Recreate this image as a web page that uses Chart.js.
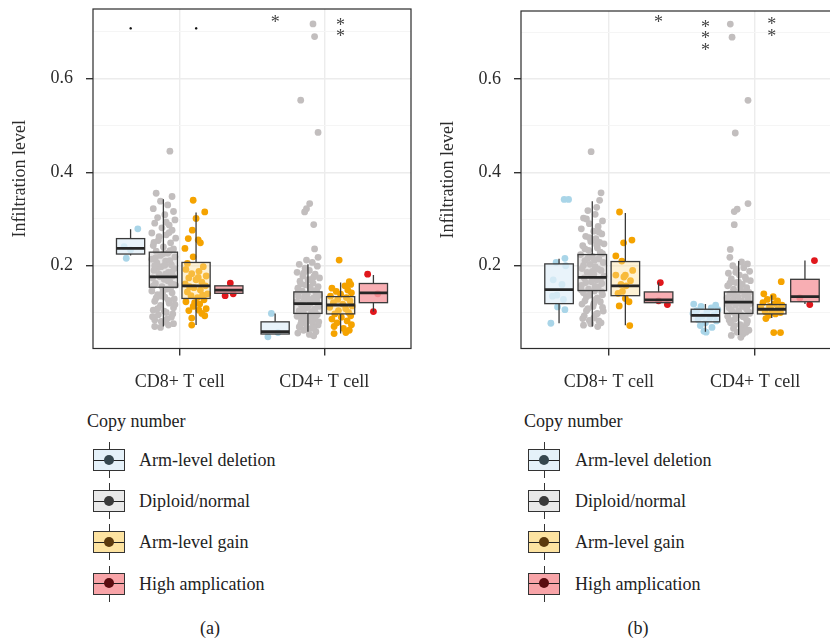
<!DOCTYPE html>
<html>
<head>
<meta charset="utf-8">
<script src="https://cdn.jsdelivr.net/npm/chart.js"></script>
<style>
  html, body { margin: 0; padding: 0; background: #fff; width: 830px; height: 640px; overflow: hidden; }
  body { position: relative; font-family: "Liberation Serif", "Times New Roman", serif; color: #222; }
  canvas { position: absolute; top: 0; }
  #chartA { left: 0; }
  #chartB { left: 428px; }
  .ltitle, .llabel, .caption { position: absolute; font-size: 18px; white-space: nowrap; height: 22px; line-height: 22px; }
  .key { position: absolute; width: 32px; height: 22px; box-sizing: border-box; border: 1px solid #333; }
  .key .mid { position: absolute; left: 0; right: 0; top: 9.5px; height: 1px; background: #222; }
  .key .dot { position: absolute; left: 10px; top: 4.5px; width: 10px; height: 10px; border-radius: 50%; }
  .key .wt, .key .wb { position: absolute; left: 14.5px; width: 1px; height: 7px; background: #333; }
  .key .wt { top: -8px; }
  .key .wb { bottom: -8px; }
  .caption { transform: translateX(-50%); }
</style>
</head>
<body>
<canvas id="chartA" width="420" height="400"></canvas>
<canvas id="chartB" width="424" height="400"></canvas>
<div id="legends"></div>
<script>
const SERIF = '"Liberation Serif", "Times New Roman", serif';

const CATEGORIES = ["CD8+ T cell", "CD4+ T cell"];
const CAT_POS = [1, 2];
const GROUPS = ["Arm-level deletion", "Diploid/normal", "Arm-level gain", "High amplication"];
const OFFSETS = [-0.34, -0.113, 0.113, 0.34];
const BOX_W = 0.195;

const Y_GRID = [0.1, 0.2, 0.3, 0.4, 0.5, 0.6, 0.7];
const Y_TICKS = [0.2, 0.4, 0.6];
const Y_TICK_LABELS = ["0.2", "0.4", "0.6"];
const Y_MIN = 0.023;

const POINT_COLORS = ["#a9d5e8", "#c2bebe", "#f5a300", "#e0171c"];
const BOX_FILLS = ["rgba(226,239,248,0.75)", "rgba(200,196,196,0.4)", "rgba(253,222,150,0.4)", "rgba(247,160,166,0.85)"];
const KEY_FILLS = ["#e5f1f9", "#e9e9e9", "#fde3a1", "#f8a4a8"];
const KEY_DOTS = ["#36474f", "#3a3a3a", "#5c3a0e", "#5a0d10"];

// box stats: [lower whisker, q1, median, q3, upper whisker], one row per copy-number group
const A_CD8_STATS = [[0.222, 0.225, 0.237, 0.258, 0.278], [0.070, 0.154, 0.176, 0.229, 0.342], [0.073, 0.130, 0.157, 0.207, 0.314], [0.141, 0.141, 0.148, 0.157, 0.157]];
const A_CD4_STATS = [[0.054, 0.054, 0.059, 0.080, 0.098], [0.059, 0.098, 0.119, 0.144, 0.203], [0.055, 0.097, 0.116, 0.134, 0.164], [0.102, 0.121, 0.142, 0.162, 0.180]];
const B_CD8_STATS = [[0.077, 0.119, 0.149, 0.204, 0.215], [0.070, 0.147, 0.175, 0.224, 0.338], [0.073, 0.136, 0.157, 0.209, 0.313], [0.121, 0.121, 0.127, 0.144, 0.164]];
const B_CD4_STATS = [[0.059, 0.080, 0.094, 0.107, 0.118], [0.052, 0.098, 0.122, 0.144, 0.210], [0.088, 0.097, 0.107, 0.117, 0.137], [0.118, 0.123, 0.134, 0.171, 0.211]];

// jittered points: [x offset from box centre, infiltration level]
const A_CD8_DEL = [[0.05, 0.279], [-0.03, 0.216], [0.0, 0.234], [-0.045, 0.241]];
const A_CD8_DIP = [[-0.05, 0.355], [0.06, 0.348], [-0.02, 0.338], [0.03, 0.33], [-0.07, 0.322], [0.07, 0.316], [0.01, 0.309], [-0.04, 0.303], [0.08, 0.298], [-0.06, 0.291], [0.04, 0.287], [-0.01, 0.281], [0.06, 0.276], [-0.08, 0.27], [0.02, 0.266], [0.085, 0.259], [-0.035, 0.254], [0.05, 0.249], [-0.07, 0.243], [0.0, 0.24], [0.07, 0.236], [-0.05, 0.231], [0.03, 0.227], [-0.02, 0.222], [0.08, 0.219], [-0.08, 0.214], [0.015, 0.21], [-0.045, 0.206], [0.055, 0.202], [-0.015, 0.198], [0.075, 0.194], [-0.065, 0.19], [0.035, 0.186], [-0.03, 0.182], [0.065, 0.178], [-0.075, 0.174], [0.005, 0.171], [0.045, 0.166], [-0.055, 0.162], [0.085, 0.158], [-0.01, 0.155], [0.025, 0.15], [-0.08, 0.146], [0.06, 0.142], [-0.04, 0.138], [0.01, 0.133], [0.075, 0.129], [-0.06, 0.124], [0.04, 0.12], [-0.02, 0.115], [0.07, 0.11], [-0.07, 0.105], [0.02, 0.1], [-0.035, 0.095], [0.055, 0.09], [-0.06, 0.084], [0.0, 0.079], [-0.06, 0.07], [0.035, 0.073], [-0.02, 0.068], [0.045, 0.445],
  [0.02, 0.293], [-0.03, 0.262], [0.045, 0.232], [-0.055, 0.217], [0.01, 0.201], [0.06, 0.187], [-0.025, 0.177], [0.03, 0.168], [-0.07, 0.157], [0.05, 0.152], [-0.005, 0.143], [-0.05, 0.131], [0.035, 0.126], [0.08, 0.117], [-0.04, 0.108], [0.005, 0.103], [0.065, 0.097], [-0.075, 0.091], [0.025, 0.086], [-0.015, 0.081], [0.07, 0.076], [0.045, 0.211], [-0.035, 0.196], [0.015, 0.182], [0.07, 0.16], [-0.06, 0.2], [0.0, 0.226], [-0.065, 0.25], [0.04, 0.271], [-0.015, 0.135]];
const A_CD8_GAIN = [[-0.02, 0.34], [0.06, 0.315], [0.0, 0.301], [-0.026, 0.276], [-0.054, 0.258], [0.015, 0.255], [0.03, 0.249], [-0.077, 0.237], [-0.02, 0.219], [-0.06, 0.205], [0.05, 0.198], [-0.07, 0.192], [0.02, 0.188], [-0.03, 0.183], [0.07, 0.178], [-0.05, 0.174], [0.0, 0.17], [0.04, 0.165], [-0.075, 0.161], [0.065, 0.157], [-0.015, 0.153], [0.03, 0.148], [-0.06, 0.144], [0.08, 0.14], [-0.035, 0.136], [0.01, 0.132], [0.055, 0.127], [-0.07, 0.123], [0.025, 0.118], [-0.02, 0.113], [0.07, 0.108], [-0.05, 0.104], [0.04, 0.098], [0.06, 0.093], [-0.03, 0.088], [-0.03, 0.073], [0.015, 0.175], [-0.045, 0.155], [0.045, 0.137], [-0.01, 0.121], [0.02, 0.105]];
const A_CD8_AMP = [[0.01, 0.163], [-0.026, 0.136], [0.03, 0.14]];
const A_CD4_DEL = [[-0.026, 0.098], [-0.05, 0.048], [0.02, 0.057]];
const A_CD4_DIP = [[0.035, 0.717], [0.046, 0.69], [-0.05, 0.554], [0.07, 0.485], [0.012, 0.333], [-0.01, 0.322], [-0.023, 0.315], [0.04, 0.288], [0.046, 0.236], [0.07, 0.218], [-0.01, 0.212], [0.03, 0.207], [-0.06, 0.203], [0.065, 0.199], [-0.02, 0.195], [0.01, 0.19], [-0.075, 0.186], [0.05, 0.182], [-0.035, 0.178], [0.08, 0.174], [0.0, 0.17], [-0.055, 0.167], [0.035, 0.163], [-0.015, 0.159], [0.07, 0.155], [-0.07, 0.152], [0.02, 0.149], [-0.04, 0.146], [0.055, 0.143], [-0.005, 0.14], [0.08, 0.137], [-0.065, 0.134], [0.04, 0.131], [-0.025, 0.128], [0.06, 0.125], [-0.08, 0.122], [0.015, 0.119], [-0.045, 0.116], [0.075, 0.113], [-0.01, 0.11], [0.045, 0.107], [-0.06, 0.104], [0.025, 0.101], [-0.03, 0.098], [0.065, 0.095], [-0.075, 0.092], [0.005, 0.089], [0.05, 0.086], [-0.045, 0.083], [0.03, 0.079], [-0.015, 0.076], [0.07, 0.073], [-0.06, 0.069], [0.02, 0.066], [-0.03, 0.062], [0.055, 0.059], [-0.07, 0.056], [0.01, 0.053], [0.04, 0.05],
  [-0.03, 0.184], [0.04, 0.176], [-0.05, 0.161], [0.015, 0.154], [0.06, 0.148], [-0.02, 0.136], [0.03, 0.124], [-0.055, 0.12], [0.07, 0.117], [0.0, 0.113], [-0.035, 0.105], [0.05, 0.1], [-0.065, 0.097], [0.02, 0.093], [-0.01, 0.085], [0.075, 0.08], [-0.05, 0.075], [0.04, 0.068], [-0.005, 0.064], [0.06, 0.131], [-0.07, 0.142], [0.025, 0.171], [-0.04, 0.09], [0.01, 0.128]];
const A_CD4_GAIN = [[-0.01, 0.212], [0.06, 0.166], [0.07, 0.16], [0.03, 0.157], [-0.06, 0.152], [0.05, 0.148], [-0.03, 0.145], [0.075, 0.142], [0.0, 0.139], [-0.07, 0.135], [0.04, 0.132], [-0.02, 0.128], [0.065, 0.125], [-0.05, 0.121], [0.015, 0.118], [0.08, 0.114], [-0.075, 0.111], [0.035, 0.108], [-0.015, 0.104], [0.055, 0.1], [-0.04, 0.097], [0.07, 0.093], [0.005, 0.09], [-0.06, 0.086], [0.045, 0.082], [-0.025, 0.078], [0.075, 0.074], [-0.045, 0.07], [0.02, 0.066], [0.06, 0.062], [-0.045, 0.055], [0.036, 0.057]];
const A_CD4_AMP = [[-0.04, 0.182], [0.0, 0.102], [0.03, 0.14]];

const B_CD8_DEL = [[0.035, 0.342], [0.065, 0.342], [0.04, 0.216], [-0.02, 0.207], [0.045, 0.2], [-0.04, 0.17], [0.02, 0.16], [-0.015, 0.137], [-0.045, 0.135], [0.03, 0.128], [-0.01, 0.112], [0.04, 0.106], [-0.056, 0.077]];
const B_CD8_DIP = [[0.06, 0.356], [0.05, 0.34], [0.03, 0.325], [-0.03, 0.318], [0.02, 0.31], [-0.06, 0.302], [0.07, 0.296], [-0.02, 0.29], [0.04, 0.284], [-0.075, 0.279], [0.01, 0.274], [0.065, 0.268], [-0.045, 0.263], [0.025, 0.258], [-0.01, 0.252], [0.08, 0.247], [-0.065, 0.243], [0.035, 0.238], [-0.025, 0.233], [0.055, 0.229], [-0.08, 0.224], [0.0, 0.22], [0.045, 0.215], [-0.05, 0.211], [0.075, 0.207], [-0.015, 0.203], [0.02, 0.198], [-0.07, 0.194], [0.06, 0.19], [-0.035, 0.186], [0.01, 0.182], [0.08, 0.178], [-0.055, 0.174], [0.03, 0.17], [-0.005, 0.166], [0.065, 0.162], [-0.075, 0.158], [0.04, 0.154], [-0.025, 0.15], [0.015, 0.146], [-0.06, 0.142], [0.07, 0.138], [-0.04, 0.133], [0.025, 0.128], [0.055, 0.123], [-0.07, 0.118], [0.005, 0.113], [-0.03, 0.108], [0.075, 0.103], [0.035, 0.098], [-0.055, 0.093], [0.01, 0.088], [-0.02, 0.083], [0.06, 0.078], [-0.06, 0.073], [0.037, 0.07], [-0.008, 0.444],
  [-0.04, 0.3], [0.045, 0.272], [-0.02, 0.26], [0.03, 0.245], [-0.05, 0.236], [0.07, 0.226], [0.015, 0.212], [-0.06, 0.201], [0.04, 0.193], [-0.01, 0.179], [0.055, 0.171], [-0.045, 0.164], [0.02, 0.156], [-0.075, 0.148], [0.065, 0.144], [-0.02, 0.137], [0.035, 0.131], [-0.05, 0.125], [0.01, 0.119], [0.07, 0.111], [-0.04, 0.104], [0.025, 0.096], [-0.065, 0.087], [0.045, 0.082], [-0.01, 0.076], [0.0, 0.188], [-0.03, 0.216], [0.05, 0.25]];
const B_CD8_GAIN = [[-0.04, 0.315], [0.045, 0.255], [-0.012, 0.249], [-0.065, 0.221], [-0.024, 0.21], [0.05, 0.19], [0.0, 0.18], [-0.065, 0.18], [-0.01, 0.176], [0.035, 0.168], [-0.03, 0.16], [0.005, 0.157], [-0.02, 0.145], [-0.05, 0.141], [0.0, 0.13], [0.025, 0.123], [-0.042, 0.114], [0.03, 0.072]];
const B_CD8_AMP = [[0.012, 0.164], [0.0, 0.125], [0.06, 0.117]];
const B_CD4_DEL = [[-0.08, 0.118], [0.07, 0.116], [-0.03, 0.113], [0.04, 0.11], [0.085, 0.106], [-0.06, 0.104], [0.01, 0.101], [-0.085, 0.098], [0.06, 0.095], [-0.02, 0.092], [0.03, 0.088], [-0.05, 0.085], [0.075, 0.082], [0.0, 0.078], [-0.035, 0.072], [0.045, 0.068], [-0.01, 0.06], [0.005, 0.058]];
const B_CD4_DIP = [[-0.057, 0.717], [-0.045, 0.689], [0.064, 0.554], [-0.023, 0.484], [0.064, 0.333], [-0.01, 0.321], [-0.03, 0.316], [-0.03, 0.288], [-0.057, 0.235], [-0.06, 0.218], [0.02, 0.208], [0.06, 0.204], [-0.04, 0.2], [0.035, 0.196], [-0.015, 0.192], [0.075, 0.188], [-0.07, 0.184], [0.005, 0.18], [0.045, 0.176], [-0.05, 0.172], [0.08, 0.168], [-0.02, 0.164], [0.025, 0.16], [-0.075, 0.157], [0.055, 0.153], [-0.035, 0.15], [0.01, 0.147], [0.07, 0.143], [-0.06, 0.14], [0.04, 0.137], [-0.005, 0.134], [-0.08, 0.131], [0.065, 0.128], [0.02, 0.125], [-0.045, 0.122], [0.08, 0.119], [-0.02, 0.116], [0.035, 0.113], [-0.065, 0.11], [0.055, 0.107], [0.0, 0.104], [-0.04, 0.101], [0.075, 0.098], [0.015, 0.095], [-0.075, 0.092], [0.045, 0.089], [-0.025, 0.086], [0.06, 0.082], [-0.055, 0.078], [0.01, 0.074], [0.04, 0.07], [-0.035, 0.066], [0.07, 0.062], [-0.01, 0.058], [0.03, 0.054], [-0.05, 0.051], [0.015, 0.047],
  [-0.02, 0.186], [0.05, 0.171], [-0.06, 0.163], [0.01, 0.156], [0.04, 0.145], [-0.03, 0.139], [0.065, 0.133], [-0.01, 0.121], [0.025, 0.114], [-0.05, 0.106], [0.07, 0.101], [-0.02, 0.096], [0.03, 0.091], [-0.065, 0.084], [0.055, 0.077], [-0.03, 0.072], [0.02, 0.063], [0.05, 0.058], [-0.04, 0.127], [0.0, 0.165], [0.06, 0.115], [-0.075, 0.118]];
const B_CD4_GAIN = [[0.065, 0.166], [-0.054, 0.14], [0.01, 0.134], [-0.03, 0.128], [0.04, 0.125], [-0.06, 0.121], [0.02, 0.119], [0.07, 0.116], [-0.015, 0.113], [-0.075, 0.11], [0.045, 0.108], [0.0, 0.105], [-0.045, 0.102], [0.06, 0.1], [0.025, 0.097], [-0.02, 0.094], [-0.04, 0.087], [0.014, 0.057], [0.06, 0.057]];
const B_CD4_AMP = [[0.065, 0.211], [-0.035, 0.131], [0.033, 0.117]];

// significance marks: [category index, group index, symbol, y positions]
const A_MARKS = [[0, 0, "•", [0.707]], [0, 2, "•", [0.707]], [1, 0, "*", [0.727]], [1, 2, "*", [0.722, 0.698]]];
const B_MARKS = [[0, 3, "*", [0.727]], [1, 0, "*", [0.718, 0.693, 0.668]], [1, 2, "*", [0.723, 0.699]]];

function pointsFor(panel, gi) {
  const out = [];
  panel.forEach((groups, ci) => {
    groups[gi].forEach(([dx, v]) => out.push({ x: CAT_POS[ci] + OFFSETS[gi] + dx, y: v }));
  });
  return out;
}

function boxPlugin(stats, marks) {
  return {
    id: "boxes",
    afterDatasetsDraw(chart) {
      const { ctx, chartArea: a, scales: { x, y } } = chart;
      ctx.save();
      ctx.beginPath();
      ctx.rect(a.left, a.top, a.width, a.height);
      ctx.clip();
      stats.forEach((catStats, ci) => {
        catStats.forEach((s, gi) => {
          const c = CAT_POS[ci] + OFFSETS[gi];
          const x0 = x.getPixelForValue(c - BOX_W / 2);
          const x1 = x.getPixelForValue(c + BOX_W / 2);
          const xm = x.getPixelForValue(c);
          const [lo, q1, med, q3, hi] = s.map((v) => y.getPixelForValue(v));
          ctx.strokeStyle = "#3a3a3a";
          ctx.lineWidth = 1.3;
          ctx.beginPath();
          ctx.moveTo(xm, lo); ctx.lineTo(xm, q1);
          ctx.moveTo(xm, q3); ctx.lineTo(xm, hi);
          ctx.stroke();
          ctx.fillStyle = BOX_FILLS[gi];
          ctx.fillRect(x0, q3, x1 - x0, q1 - q3);
          ctx.strokeRect(x0, q3, x1 - x0, q1 - q3);
          ctx.strokeStyle = "#262626";
          ctx.lineWidth = 2.8;
          ctx.beginPath();
          ctx.moveTo(x0, med); ctx.lineTo(x1, med);
          ctx.stroke();
        });
      });
      ctx.restore();

      ctx.save();
      ctx.textAlign = "center";
      ctx.textBaseline = "alphabetic";
      marks.forEach(([ci, gi, sym, ys]) => {
        const px = x.getPixelForValue(CAT_POS[ci] + OFFSETS[gi]);
        ys.forEach((v) => {
          const py = y.getPixelForValue(v);
          if (sym === "*") {
            ctx.fillStyle = "#444";
            ctx.font = "18px " + SERIF;
            ctx.fillText(sym, px, py + 9);
          } else {
            ctx.fillStyle = "#111";
            ctx.font = "11px " + SERIF;
            ctx.fillText(sym, px, py + 3.5);
          }
        });
      });
      ctx.strokeStyle = "#2b2b2b";
      ctx.lineWidth = 1.2;
      ctx.strokeRect(a.left, a.top, a.width, a.height);
      ctx.restore();
    },
  };
}

function makeChart(id, panel, stats, marks, yMax, padTop) {
  const isMajor = (c) => c.tick && Y_TICKS.includes(c.tick.value);
  return new Chart(document.getElementById(id), {
    type: "scatter",
    data: {
      datasets: GROUPS.map((g, gi) => ({
        label: g,
        data: pointsFor(panel, gi),
        backgroundColor: POINT_COLORS[gi],
        borderWidth: 0,
        pointRadius: 3.4,
        pointHoverRadius: 3.4,
      })),
    },
    options: {
      responsive: false,
      animation: false,
      events: [],
      layout: { padding: { top: padTop, right: 9, left: 0, bottom: 0 } },
      plugins: { legend: { display: false }, tooltip: { enabled: false } },
      scales: {
        x: {
          type: "linear",
          min: 0.4,
          max: 2.6,
          afterBuildTicks: (s) => { s.ticks = CAT_POS.map((v) => ({ value: v })); },
          afterFit: (s) => { s.height = 51.5; s.paddingLeft = 0; s.paddingRight = 0; },
          ticks: {
            callback: (v) => CATEGORIES[CAT_POS.indexOf(v)],
            font: { family: SERIF, size: 18 },
            color: "#2b2b2b",
            padding: 16,
            autoSkip: false,
            maxRotation: 0,
          },
          grid: { color: "#ececec", lineWidth: 1.4, tickColor: "#333", tickLength: 7 },
          border: { display: false },
        },
        y: {
          min: Y_MIN,
          max: yMax,
          afterBuildTicks: (s) => { s.ticks = Y_GRID.map((v) => ({ value: v })); },
          afterFit: (s) => { s.width = 93; s.paddingTop = 0; s.paddingBottom = 0; },
          ticks: {
            callback: (v) => {
              const i = Y_TICKS.indexOf(v);
              return i < 0 ? "" : Y_TICK_LABELS[i];
            },
            font: { family: SERIF, size: 18 },
            color: "#2b2b2b",
            padding: 13,
          },
          grid: {
            color: (c) => (isMajor(c) ? "#ececec" : "#f5f5f5"),
            lineWidth: (c) => (isMajor(c) ? 1.4 : 1),
            tickColor: (c) => (isMajor(c) ? "#333" : "rgba(0,0,0,0)"),
            tickLength: 7,
          },
          border: { display: false },
          title: {
            display: true,
            text: "Infiltration level",
            font: { family: SERIF, size: 18 },
            color: "#2b2b2b",
            padding: { top: 9, bottom: 0 },
          },
        },
      },
    },
    plugins: [boxPlugin(stats, marks)],
  });
}

makeChart("chartA",
  [[A_CD8_DEL, A_CD8_DIP, A_CD8_GAIN, A_CD8_AMP], [A_CD4_DEL, A_CD4_DIP, A_CD4_GAIN, A_CD4_AMP]],
  [A_CD8_STATS, A_CD4_STATS], A_MARKS, 0.749, 9);
makeChart("chartB",
  [[B_CD8_DEL, B_CD8_DIP, B_CD8_GAIN, B_CD8_AMP], [B_CD4_DEL, B_CD4_DIP, B_CD4_GAIN, B_CD4_AMP]],
  [B_CD8_STATS, B_CD4_STATS], B_MARKS, 0.745, 11);

// legends and captions
function addLegend(titleX, keyX, labelX, caption, capX) {
  const root = document.getElementById("legends");
  const t = document.createElement("div");
  t.className = "ltitle";
  t.style.left = titleX + "px";
  t.style.top = "410px";
  t.textContent = "Copy number";
  root.appendChild(t);
  GROUPS.forEach((g, gi) => {
    const cy = 460 + gi * 41.2;
    const k = document.createElement("div");
    k.className = "key";
    k.style.left = keyX + "px";
    k.style.top = (cy - 11) + "px";
    k.style.background = KEY_FILLS[gi];
    k.innerHTML = '<div class="wt"></div><div class="wb"></div><div class="mid"></div><div class="dot"></div>';
    k.querySelector(".dot").style.background = KEY_DOTS[gi];
    root.appendChild(k);
    const l = document.createElement("div");
    l.className = "llabel";
    l.style.left = labelX + "px";
    l.style.top = (cy - 11) + "px";
    l.textContent = g;
    root.appendChild(l);
  });
  const c = document.createElement("div");
  c.className = "caption";
  c.style.left = capX + "px";
  c.style.top = "617px";
  c.textContent = caption;
  root.appendChild(c);
}
addLegend(87, 93, 139, "(a)", 210);
addLegend(524, 528, 575, "(b)", 638);
</script>
</body>
</html>
